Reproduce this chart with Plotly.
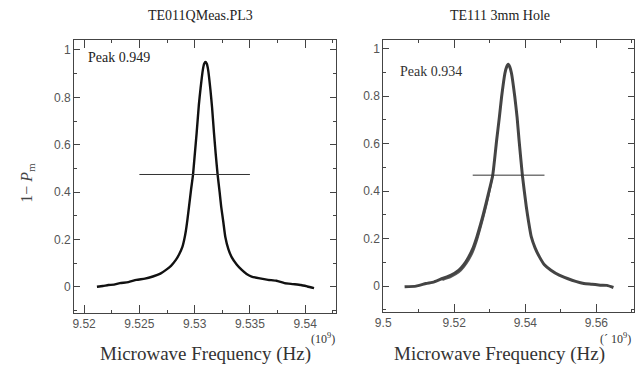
import plotly.graph_objects as go

# ---- data (frequency in units of 1e9 Hz) ----
left_freq = [9.52116, 9.52170, 9.52220, 9.52270, 9.52324, 9.52400, 9.52473, 9.52550, 9.52622, 9.52690,
             9.52741, 9.52786, 9.52830, 9.52860, 9.52890, 9.52905, 9.52920, 9.52935, 9.52949,
             9.52967, 9.52985, 9.53002, 9.53018, 9.53038, 9.53054, 9.53074, 9.53086, 9.53098,
             9.53110, 9.53122, 9.53143, 9.53158, 9.53175, 9.53190, 9.53208, 9.53226, 9.53240,
             9.53259, 9.53277, 9.53305, 9.53336, 9.53380, 9.53426, 9.53470, 9.53515, 9.53590,
             9.53664, 9.53740, 9.53813, 9.53890, 9.53962, 9.54020, 9.54080]
left_resp = [0.001, 0.004, 0.008, 0.010, 0.016, 0.020, 0.030, 0.035, 0.044, 0.056,
             0.072, 0.089, 0.114, 0.138, 0.170, 0.198, 0.235, 0.285, 0.339,
             0.409, 0.473, 0.564, 0.649, 0.768, 0.840, 0.916, 0.942, 0.949,
             0.942, 0.916, 0.831, 0.755, 0.649, 0.564, 0.473, 0.400, 0.339,
             0.275, 0.212, 0.160, 0.125, 0.095, 0.072, 0.055, 0.044, 0.036,
             0.030, 0.026, 0.016, 0.012, 0.008, 0.002, -0.005]

right_freq = [9.50602, 9.50926, 9.51204, 9.51435, 9.51667, 9.51898, 9.52130, 9.52269, 9.52407, 9.52528,
              9.52639, 9.52731, 9.52824, 9.52963, 9.53083, 9.53194, 9.53269, 9.53333, 9.53426,
              9.53472, 9.53519, 9.53565, 9.53611, 9.53704, 9.53769, 9.53824, 9.53917, 9.54028,
              9.54093, 9.54167, 9.54278, 9.54398, 9.54537, 9.54722, 9.54954, 9.55185, 9.55417,
              9.55648, 9.55880, 9.56111, 9.56296, 9.56481]
right_resp = [-0.003, 0.000, 0.011, 0.018, 0.032, 0.045, 0.067, 0.090, 0.123, 0.160,
              0.208, 0.255, 0.306, 0.390, 0.467, 0.615, 0.710, 0.797, 0.896,
              0.922, 0.934, 0.922, 0.896, 0.797, 0.710, 0.615, 0.467, 0.334,
              0.270, 0.208, 0.160, 0.123, 0.090, 0.067, 0.046, 0.032, 0.020,
              0.011, 0.008, 0.004, 0.003, -0.006]
# second (overlapping) sweep visible on the low-frequency flank
right2_freq = [9.51667, 9.51898, 9.52130, 9.52269, 9.52407, 9.52528, 9.52639, 9.52731, 9.52824, 9.52963, 9.53083]
right2_resp = [0.026, 0.038, 0.058, 0.080, 0.110, 0.145, 0.192, 0.240, 0.292, 0.378, 0.467]

left_half_x = [9.525, 9.535]
left_half_y = [0.4745, 0.4745]
right_half_x = [9.5252, 9.5454]
right_half_y = [0.467, 0.467]

left_yticks = [0, 0.2, 0.4, 0.6, 0.8, 1]
left_yticklabels = ["0", "0.2", "0.4", "0.6", "0.8", "1"]
left_xticks = [9.52, 9.525, 9.53, 9.535, 9.54]
left_xticklabels = ["9.52", "9.525", "9.53", "9.535", "9.54"]
right_xticks = [9.5, 9.52, 9.54, 9.56]
right_xticklabels = ["9.5", "9.52", "9.54", "9.56"]

W, H = 635, 369
fig = go.Figure()

fig.add_trace(go.Scatter(x=left_freq, y=left_resp, mode="lines", xaxis="x", yaxis="y",
                         line=dict(color="#111111", width=2.4, shape="spline", smoothing=0.5),
                         showlegend=False, hoverinfo="skip"))
fig.add_trace(go.Scatter(x=left_half_x, y=left_half_y, mode="lines", xaxis="x", yaxis="y",
                         line=dict(color="#333333", width=1), showlegend=False, hoverinfo="skip"))
fig.add_trace(go.Scatter(x=right2_freq, y=right2_resp, mode="lines", xaxis="x2", yaxis="y2",
                         line=dict(color="#5a5a5a", width=2, shape="spline", smoothing=0.5),
                         showlegend=False, hoverinfo="skip"))
fig.add_trace(go.Scatter(x=right_freq, y=right_resp, mode="lines", xaxis="x2", yaxis="y2",
                         line=dict(color="#444444", width=3, shape="spline", smoothing=0.5),
                         showlegend=False, hoverinfo="skip"))
fig.add_trace(go.Scatter(x=right_half_x, y=right_half_y, mode="lines", xaxis="x2", yaxis="y2",
                         line=dict(color="#333333", width=1), showlegend=False, hoverinfo="skip"))

tickfont = dict(family="Liberation Sans", size=12, color="#555555")
axcommon = dict(showline=True, linecolor="#444444", linewidth=1, mirror="ticks", ticks="inside",
                tickcolor="#444444", showgrid=False, zeroline=False, tickfont=tickfont)

fig.update_layout(
    width=W, height=H, margin=dict(l=0, r=0, t=0, b=0),
    paper_bgcolor="white", plot_bgcolor="white",
    xaxis=dict(domain=[67/W, 332/W], range=[9.5191, 9.54277], anchor="y",
               tickvals=left_xticks, ticktext=left_xticklabels, ticklen=8,
               minor=dict(dtick=0.0025, tick0=9.52, ticks="inside", ticklen=3, tickcolor="#444444"),
               **axcommon),
    yaxis=dict(domain=[1-313/H, 1-40/H], range=[-0.110, 1.042], anchor="x",
               tickvals=left_yticks, ticktext=left_yticklabels, ticklen=6,
               minor=dict(dtick=0.1, tick0=0, ticks="inside", ticklen=3, tickcolor="#444444"),
               **axcommon),
    xaxis2=dict(domain=[380/W, 634/W], range=[9.5, 9.5706], anchor="y2",
                tickvals=right_xticks, ticktext=right_xticklabels, ticklen=8,
                minor=dict(dtick=0.01, tick0=9.5, ticks="inside", ticklen=3, tickcolor="#444444"),
                **axcommon),
    yaxis2=dict(domain=[1-312/H, 1-40/H], range=[-0.109, 1.036], anchor="x2",
                tickvals=left_yticks, ticktext=left_yticklabels, ticklen=6,
                minor=dict(dtick=0.1, tick0=0, ticks="inside", ticklen=3, tickcolor="#444444"),
                **axcommon),
)

serif = "Liberation Serif"
def ann(text, x, y, size, color="#222222", xanchor="center", yanchor="middle", textangle=0, fam=serif):
    fig.add_annotation(text=text, x=x/W, y=1-y/H, xref="paper", yref="paper", showarrow=False,
                       xanchor=xanchor, yanchor=yanchor, textangle=textangle, borderpad=0,
                       font=dict(family=fam, size=size, color=color))

ann("TE011QMeas.PL3", 195, 15, 14)
ann("TE111 3mm Hole", 498, 15, 14)
ann("Microwave Frequency (Hz)", 200, 354, 19, "#333333")
ann("Microwave Frequency (Hz)", 498, 354, 19, "#333333")
ann("(10<sup>9</sup>)", 332, 338, 12, "#333333", xanchor="right")
ann("(´ 10<sup>9</sup>)", 632, 338, 12, "#333333", xanchor="right")
ann("1− <i>P</i><sub>m</sub>", 20, 183, 16, "#444444", textangle=-90)
ann("Peak 0.949", 80, 58, 14, "#222222", xanchor="left")
ann("Peak 0.934", 396, 71, 14, "#333333", xanchor="left")

fig.write_html("out.html")
